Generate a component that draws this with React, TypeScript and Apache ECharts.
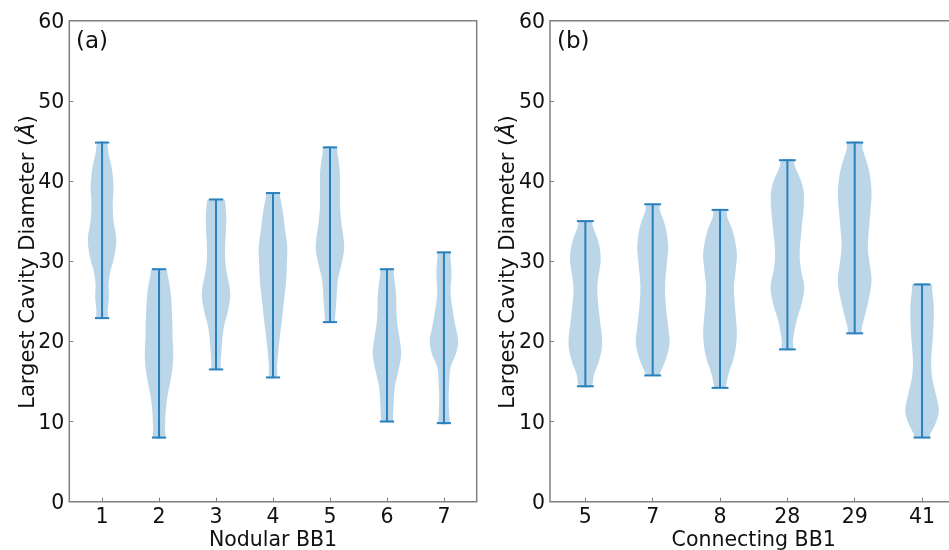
import React, { useEffect, useRef } from "react";
import * as echarts from "echarts";

// Category (tick) labels
const catsA = ["1", "2", "3", "4", "5", "6", "7"];
const catsB = ["5", "7", "8", "28", "29", "41"];

// Violin profiles: [value (Å), relative half-width 0..1], bottom (min) to top (max)
const violinA1 = [[22.9, 0.35], [23.9, 0.4], [25.5, 0.48], [27.2, 0.46], [28.9, 0.6], [30.1, 0.8], [32.6, 1.0], [35.1, 0.8], [37.2, 0.75], [39.3, 0.8], [41.4, 0.7], [43.5, 0.45], [44.8, 0.3]];
const violinA2 = [[8.0, 0.38], [9.3, 0.42], [11.0, 0.46], [13.0, 0.58], [15.1, 0.8], [16.8, 0.95], [18.5, 1.0], [20.5, 0.95], [22.6, 0.93], [26.0, 0.82], [28.5, 0.58], [29.0, 0.5]];
const violinA3 = [[16.5, 0.3], [17.2, 0.32], [19.3, 0.4], [21.8, 0.55], [23.5, 0.8], [26.0, 1.0], [28.9, 0.72], [31.0, 0.63], [35.1, 0.72], [37.2, 0.65], [37.7, 0.55]];
const violinA4 = [[15.5, 0.25], [16.8, 0.28], [19.3, 0.4], [22.6, 0.62], [26.0, 0.83], [27.6, 0.92], [30.1, 0.98], [31.8, 1.0], [33.9, 0.85], [36.0, 0.7], [38.0, 0.5], [38.5, 0.42]];
const violinA5 = [[22.4, 0.33], [23.0, 0.36], [25.1, 0.45], [27.6, 0.55], [29.7, 0.82], [31.8, 1.0], [35.1, 0.78], [37.2, 0.7], [39.3, 0.7], [41.4, 0.68], [43.5, 0.52], [44.2, 0.45]];
const violinA6 = [[10.0, 0.4], [10.5, 0.42], [12.2, 0.47], [14.3, 0.55], [16.4, 0.81], [18.5, 1.0], [20.5, 0.87], [22.6, 0.7], [26.0, 0.63], [28.4, 0.47], [29.0, 0.42]];
const violinA7 = [[9.8, 0.36], [11.0, 0.36], [13.0, 0.33], [15.1, 0.38], [16.8, 0.47], [18.5, 0.85], [20.1, 1.0], [21.8, 0.82], [23.5, 0.65], [26.0, 0.47], [28.5, 0.53], [30.6, 0.45], [31.1, 0.42]];

const violinB1 = [[14.4, 0.35], [15.9, 0.52], [17.6, 0.82], [19.7, 1.0], [22.6, 0.87], [26.0, 0.71], [27.6, 0.74], [30.1, 0.91], [32.2, 0.8], [34.3, 0.45], [35.0, 0.35]];
const violinB2 = [[15.75, 0.38], [16.1, 0.45], [17.6, 0.76], [19.7, 1.0], [21.8, 0.92], [24.3, 0.79], [26.8, 0.73], [29.7, 0.84], [31.8, 0.92], [34.3, 0.76], [36.4, 0.42], [37.1, 0.35]];
const violinB3 = [[14.2, 0.33], [14.5, 0.36], [15.9, 0.5], [18.4, 0.87], [21.0, 1.0], [24.3, 0.89], [26.8, 0.83], [28.9, 0.93], [31.0, 1.0], [33.5, 0.79], [35.5, 0.43], [36.4, 0.35]];
const violinB4 = [[19.0, 0.3], [20.1, 0.33], [22.6, 0.55], [24.8, 0.86], [26.8, 1.0], [28.9, 0.81], [31.0, 0.73], [34.3, 0.86], [37.2, 0.98], [39.3, 0.92], [41.8, 0.45], [42.6, 0.35]];
const violinB5 = [[21.0, 0.35], [21.8, 0.43], [23.5, 0.64], [25.5, 0.86], [27.6, 1.0], [29.7, 0.89], [31.8, 0.78], [35.1, 0.89], [38.5, 1.0], [41.4, 0.84], [43.9, 0.48], [44.8, 0.4]];
const violinB6 = [[8.0, 0.42], [8.4, 0.48], [9.7, 0.79], [11.3, 1.0], [13.4, 0.82], [15.5, 0.6], [17.6, 0.54], [20.5, 0.64], [24.1, 0.7], [26.4, 0.6], [27.1, 0.55]];

const profilesA = [violinA1, violinA2, violinA3, violinA4, violinA5, violinA6, violinA7];
const profilesB = [violinB1, violinB2, violinB3, violinB4, violinB5, violinB6];

const yTicks = [0, 10, 20, 30, 40, 50, 60];

const FONT = "DejaVu Sans";
const TXT = "#111";
const BLUE = "#2a80bd";
const FILL = "rgba(31,119,180,0.3)";
const SPINE = "#808080";
const HALF = 0.25; // half violin width in axis units
const CAP = 0.125;
const FS = 20.5;

function makeRender(profiles: number[][][]) {
  return (params: any, api: any) => {
    const pos = api.value(0);
    const idx = api.value(1);
    const prof = profiles[idx];
    const right = prof.map(([v, w]) => api.coord([pos + w * HALF, v]));
    const left = prof
      .slice()
      .reverse()
      .map(([v, w]) => api.coord([pos - w * HALF, v]));
    const pts = right.concat(left);
    const lo = prof[0][0];
    const hi = prof[prof.length - 1][0];
    const top = api.coord([pos, hi]);
    const bot = api.coord([pos, lo]);
    const tl = api.coord([pos - CAP, hi]);
    const tr = api.coord([pos + CAP, hi]);
    const bl = api.coord([pos - CAP, lo]);
    const br = api.coord([pos + CAP, lo]);
    const ls = { stroke: BLUE, lineWidth: 2 };
    return {
      type: "group",
      children: [
        { type: "polygon", shape: { points: pts, smooth: 0.35 }, style: { fill: FILL, stroke: null } },
        { type: "line", shape: { x1: top[0], y1: top[1], x2: bot[0], y2: bot[1] }, style: ls },
        { type: "line", shape: { x1: tl[0], y1: tl[1], x2: tr[0], y2: tr[1] }, style: ls },
        { type: "line", shape: { x1: bl[0], y1: bl[1], x2: br[0], y2: br[1] }, style: ls },
      ],
    };
  };
}

function xAxisFor(cats: string[], gridIndex: number, min: number, max: number, name: string) {
  const vals = cats.map((_, i) => i + 1);
  return {
    type: "value",
    gridIndex,
    min,
    max,
    name,
    nameLocation: "middle",
    nameGap: 37,
    nameMoveOverlap: false,
    nameTextStyle: { fontFamily: FONT, fontSize: FS, color: TXT, verticalAlign: "middle" },
    axisLine: { show: false },
    splitLine: { show: false },
    axisTick: { show: true, inside: true, length: 4, lineStyle: { color: SPINE, width: 1 }, customValues: vals },
    axisLabel: {
      show: true,
      margin: 4,
      customValues: vals,
      fontFamily: FONT,
      fontSize: FS,
      color: TXT,
      formatter: (v: number) => cats[Math.round(v) - 1] ?? "",
    },
  };
}

function yAxisFor(gridIndex: number) {
  return {
    type: "value",
    gridIndex,
    min: 0,
    max: 60,
    interval: 10,
    axisLine: { show: false },
    splitLine: { show: false },
    axisTick: { show: true, inside: true, length: 4, lineStyle: { color: SPINE, width: 1 } },
    axisLabel: {
      margin: 5,
      fontFamily: FONT,
      fontSize: FS,
      color: TXT,
      formatter: (v: number) => (yTicks.includes(v) ? String(v) : ""),
    },
  };
}

export default function App() {
  const ref = useRef<HTMLDivElement>(null);
  useEffect(() => {
    document.body.style.margin = "0";
    const chart = echarts.init(ref.current!, null, { renderer: "svg" });
    const ytitle = (x: number) => ({
      type: "text",
      x,
      y: 262,
      rotation: Math.PI / 2,
      style: {
        text: "Largest Cavity Diameter ({i|Å})",
        fontFamily: FONT,
        fontSize: 21,
        fill: TXT,
        align: "center",
        verticalAlign: "middle",
        rich: { i: { fontFamily: FONT, fontSize: 21, fontStyle: "italic", fill: TXT } },
      },
    });
    const gridBase = {
      top: 20.7,
      width: 407.4,
      height: 481,
      show: true,
      borderColor: SPINE,
      borderWidth: 1.5,
      backgroundColor: "transparent",
      containLabel: false,
      outerBoundsMode: "none",
    };
    chart.setOption({
      animation: false,
      grid: [
        { ...gridBase, left: 69.3 },
        { ...gridBase, left: 550 },
      ],
      xAxis: [
        xAxisFor(catsA, 0, 0.425, 7.575, "Nodular BB1"),
        xAxisFor(catsB, 1, 0.475, 6.525, "Connecting BB1"),
      ],
      yAxis: [yAxisFor(0), yAxisFor(1)],
      series: [
        {
          type: "custom",
          xAxisIndex: 0,
          yAxisIndex: 0,
          renderItem: makeRender(profilesA),
          data: catsA.map((_, i) => [i + 1, i]),
          encode: { x: 0, y: -1 },
        },
        {
          type: "custom",
          xAxisIndex: 1,
          yAxisIndex: 1,
          renderItem: makeRender(profilesB),
          data: catsB.map((_, i) => [i + 1, i]),
          encode: { x: 0, y: -1 },
        },
      ],
      graphic: [
        { type: "text", x: 76, y: 40, style: { text: "(a)", fontFamily: FONT, fontSize: 23, fill: TXT, verticalAlign: "middle" } },
        { type: "text", x: 557, y: 40, style: { text: "(b)", fontFamily: FONT, fontSize: 23, fill: TXT, verticalAlign: "middle" } },
        ytitle(27),
        ytitle(507),
      ],
    });
    return () => chart.dispose();
  }, []);
  return <div ref={ref} style={{ position: "fixed", left: 0, top: 0, width: 949, height: 550 }} />;
}
